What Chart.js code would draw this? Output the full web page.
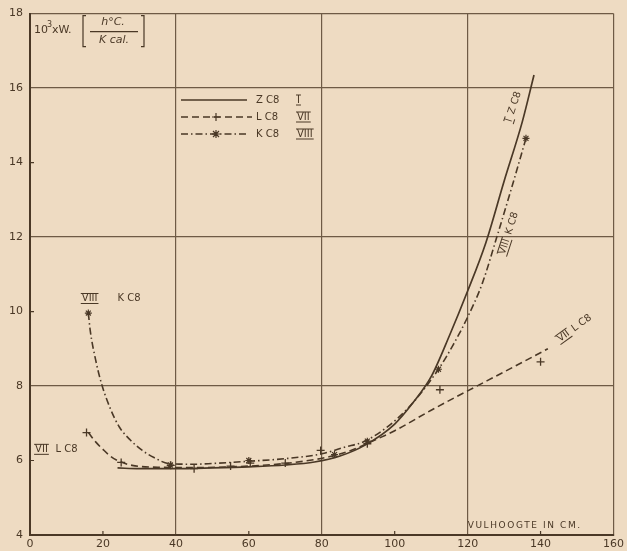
<!DOCTYPE html>
<html>
<head>
<meta charset="utf-8">
<script src="https://cdn.jsdelivr.net/npm/chart.js@4/dist/chart.umd.min.js"></script>
<style>
html,body{margin:0;padding:0;background:#eedbc2;}
#wrap{width:627px;height:551px;}
</style>
</head>
<body>
<div id="wrap"><canvas id="grafica"></canvas></div>
<script>
// vulhoogte (cm) tegen 10^3 x W
var zcX = [24, 30, 40, 50, 60, 70, 78, 85, 92, 100, 105, 110, 115, 120, 125, 130, 135, 138.2];
var zcY = [5.8, 5.78, 5.78, 5.8, 5.83, 5.88, 5.96, 6.12, 6.42, 6.98, 7.55, 8.25, 9.35, 10.55, 11.85, 13.5, 15.1, 16.35];

var lcX = [16, 18, 20, 22, 24, 28, 35, 45, 55, 65, 75, 82, 88, 92.5, 100, 110, 120, 130, 142];
var lcY = [6.75, 6.5, 6.3, 6.12, 6.0, 5.87, 5.82, 5.81, 5.83, 5.88, 5.98, 6.1, 6.27, 6.46, 6.8, 7.35, 7.87, 8.38, 9.0];

var kcX = [16, 16.5, 18, 19.5, 22, 24.5, 27.5, 30.8, 34, 38, 45, 50, 60, 70, 80, 86, 92.5, 103, 112, 116, 120, 124, 128, 132, 136];
var kcY = [9.96, 9.5, 8.7, 8.1, 7.4, 6.9, 6.55, 6.27, 6.08, 5.92, 5.9, 5.92, 5.98, 6.05, 6.18, 6.35, 6.55, 7.34, 8.45, 9.1, 9.85, 10.75, 12.0, 13.3, 14.65];

// meetpunten
var lmX = [15.5, 25, 38.6, 45, 55, 60.4, 70, 79.7, 92.5, 112.4, 140];
var lmY = [6.75, 5.95, 5.87, 5.78, 5.85, 5.93, 5.93, 6.27, 6.45, 7.9, 8.65];
var kmX = [16, 38.5, 60, 83.5, 92.5, 112, 136];
var kmY = [9.96, 5.88, 6.0, 6.16, 6.52, 8.45, 14.65];

var xTicks = [0, 20, 40, 60, 80, 100, 120, 140, 160];
var yTicks = [4, 6, 8, 10, 12, 14, 16, 18];
var gridX = [40, 80, 120, 160];
var gridY = [8, 12, 16, 18];

var inkt = '#4a3826';
var rooster = '#6e5a45';
var papier = '#eedbc2';
var letter = '"DejaVu Sans", sans-serif';

function punten(xs, ys){
    var res = [];
    for (var i = 0; i < xs.length; i++){
        res.push({x: xs[i], y: ys[i]});
    }
    return res;
}

// romeins cijfer met streep erboven en eronder
function romein(c, s, x, y){
    c.textAlign = 'left';
    c.textBaseline = 'middle';
    c.fillText(s, x, y);
    var w = c.measureText(s).width;
    c.lineWidth = 1;
    c.setLineDash([]);
    c.beginPath();
    c.moveTo(x - 1, y - 5); c.lineTo(x + w + 1, y - 5);
    c.moveTo(x - 1, y + 5); c.lineTo(x + w + 1, y + 5);
    c.stroke();
    return w;
}

function draaiTekst(c, delen, x, y, hoek){
    c.save();
    c.translate(x, y);
    c.rotate(hoek * Math.PI / 180);
    var totaal = 0;
    for (var i = 0; i < delen.length; i++){
        totaal += c.measureText(delen[i].t).width + (i > 0 ? 5 : 0);
    }
    var px = -totaal / 2;
    for (var i = 0; i < delen.length; i++){
        if (delen[i].r){
            px += romein(c, delen[i].t, px, 0) + 5;
        } else {
            c.textAlign = 'left';
            c.textBaseline = 'middle';
            c.fillText(delen[i].t, px, 0);
            px += c.measureText(delen[i].t).width + 5;
        }
    }
    c.restore();
}

var achtergrond = {
    id: 'achtergrond',
    beforeDraw: function(chart){
        var c = chart.ctx;
        c.save();
        c.fillStyle = papier;
        c.fillRect(0, 0, chart.width, chart.height);
        c.restore();
    }
};

var opschriften = {
    id: 'opschriften',
    afterDraw: function(chart){
        var c = chart.ctx;
        var a = chart.chartArea;
        var sx = chart.scales.x, sy = chart.scales.y;
        c.save();
        c.fillStyle = inkt;
        c.strokeStyle = inkt;

        // kleine streepjes op de assen
        c.lineWidth = 1.2;
        c.beginPath();
        [20, 60, 100, 140].forEach(function(v){
            var p = sx.getPixelForValue(v);
            c.moveTo(p, a.bottom); c.lineTo(p, a.bottom - 4);
        });
        [6, 10, 14].forEach(function(v){
            var p = sy.getPixelForValue(v);
            c.moveTo(a.left, p); c.lineTo(a.left + 4, p);
        });
        c.stroke();

        // grootheid op de y-as
        c.font = '11px ' + letter;
        c.textBaseline = 'middle';
        c.textAlign = 'left';
        c.fillText('10', a.left + 4, a.top + 17);
        c.font = '8px ' + letter;
        c.fillText('3', a.left + 17, a.top + 11);
        c.font = '11px ' + letter;
        c.fillText('xW.', a.left + 22, a.top + 17);
        c.lineWidth = 1.2;
        c.beginPath();
        c.moveTo(a.left + 56, a.top + 2); c.lineTo(a.left + 53, a.top + 2);
        c.lineTo(a.left + 53, a.top + 33); c.lineTo(a.left + 56, a.top + 33);
        c.moveTo(a.left + 111, a.top + 2); c.lineTo(a.left + 114, a.top + 2);
        c.lineTo(a.left + 114, a.top + 33); c.lineTo(a.left + 111, a.top + 33);
        c.moveTo(a.left + 60, a.top + 18); c.lineTo(a.left + 108, a.top + 18);
        c.stroke();
        c.textAlign = 'center';
        c.font = 'italic 11px ' + letter;
        c.fillText('h\u00b0C.', a.left + 83, a.top + 9);
        c.fillText('K cal.', a.left + 84, a.top + 27);

        // legenda
        var rijen = [
            {y: 100, dash: [], mark: null, t: 'Z C8', r: 'I', tot: 247},
            {y: 117, dash: [7, 4], mark: 'plus', t: 'L C8', r: 'VII', tot: 252},
            {y: 134, dash: [7, 3, 1.5, 3], mark: 'ster', t: 'K C8', r: 'VIII', tot: 248}
        ];
        rijen.forEach(function(rij){
            c.lineWidth = 1.4;
            c.setLineDash(rij.dash);
            c.beginPath();
            c.moveTo(181, rij.y); c.lineTo(rij.tot, rij.y);
            c.stroke();
            c.setLineDash([]);
            c.lineWidth = 1.2;
            if (rij.mark){
                c.beginPath();
                c.moveTo(216, rij.y - 4); c.lineTo(216, rij.y + 4);
                c.moveTo(212, rij.y); c.lineTo(220, rij.y);
                if (rij.mark == 'ster'){
                    c.moveTo(213, rij.y - 3); c.lineTo(219, rij.y + 3);
                    c.moveTo(219, rij.y - 3); c.lineTo(213, rij.y + 3);
                }
                c.stroke();
            }
            c.font = '10px ' + letter;
            c.textAlign = 'left';
            c.textBaseline = 'middle';
            c.fillText(rij.t, 256, rij.y);
            romein(c, rij.r, 297, rij.y);
        });

        // opschriften bij de krommen
        c.font = '10px ' + letter;
        romein(c, 'VIII', sx.getPixelForValue(14.2), sy.getPixelForValue(10.35));
        c.textAlign = 'left';
        c.fillText('K C8', sx.getPixelForValue(24), sy.getPixelForValue(10.35));
        romein(c, 'VII', sx.getPixelForValue(1.4), sy.getPixelForValue(6.3));
        c.textAlign = 'left';
        c.fillText('L C8', sx.getPixelForValue(7), sy.getPixelForValue(6.3));

        draaiTekst(c, [{t: 'I', r: true}, {t: 'Z C8'}],
            sx.getPixelForValue(132.6), sy.getPixelForValue(15.5), -72);
        draaiTekst(c, [{t: 'VIII', r: true}, {t: 'K C8'}],
            sx.getPixelForValue(131.3), sy.getPixelForValue(12.1), -72);
        draaiTekst(c, [{t: 'VII', r: true}, {t: 'L C8'}],
            sx.getPixelForValue(149.3), sy.getPixelForValue(9.55), -36);

        // grootheid op de x-as
        c.font = '9px ' + letter;
        c.letterSpacing = '1.6px';
        c.textAlign = 'left';
        c.fillText('VULHOOGTE IN CM.', sx.getPixelForValue(120), a.bottom - 9);
        c.restore();
    }
};

var ctx = document.getElementById('grafica').getContext('2d');
var myChart = new Chart(ctx, {
    type: 'scatter',
    data: {
        datasets: [{
            label: 'Z C8 I',
            data: punten(zcX, zcY),
            showLine: true,
            borderColor: inkt,
            borderWidth: 1.7,
            pointRadius: 0,
            cubicInterpolationMode: 'monotone'
        }, {
            label: 'L C8 VII',
            data: punten(lcX, lcY),
            showLine: true,
            borderColor: inkt,
            borderWidth: 1.6,
            borderDash: [7, 4],
            pointRadius: 0,
            cubicInterpolationMode: 'monotone'
        }, {
            label: 'K C8 VIII',
            data: punten(kcX, kcY),
            showLine: true,
            borderColor: inkt,
            borderWidth: 1.6,
            borderDash: [7, 3, 1.5, 3],
            pointRadius: 0,
            cubicInterpolationMode: 'monotone'
        }, {
            label: 'L C8 meetpunten',
            data: punten(lmX, lmY),
            showLine: false,
            pointStyle: 'cross',
            pointRadius: 4,
            borderColor: inkt,
            borderWidth: 1.3
        }, {
            label: 'K C8 meetpunten',
            data: punten(kmX, kmY),
            showLine: false,
            pointStyle: 'star',
            pointRadius: 3.5,
            borderColor: inkt,
            borderWidth: 1.2
        }]
    },
    options: {
        responsive: true,
        maintainAspectRatio: false,
        animation: false,
        events: [],
        layout: {padding: {top: 12, right: 10, left: 0, bottom: 0}},
        plugins: {
            legend: {display: false},
            tooltip: {enabled: false},
            title: {display: false}
        },
        scales: {
            x: {
                type: 'linear',
                min: 0,
                max: 160,
                afterBuildTicks: function(s){
                    s.ticks = xTicks.map(function(v){ return {value: v}; });
                },
                afterFit: function(s){ s.height = 16; },
                grid: {
                    color: function(c){
                        return (c.tick && gridX.indexOf(c.tick.value) >= 0) ? rooster : 'rgba(0,0,0,0)';
                    },
                    lineWidth: 1.2,
                    drawTicks: false
                },
                border: {display: true, color: inkt, width: 2},
                ticks: {
                    padding: 3,
                    color: inkt,
                    autoSkip: false,
                    maxRotation: 0,
                    font: {family: letter, size: 11}
                }
            },
            y: {
                type: 'linear',
                min: 4,
                max: 18,
                afterBuildTicks: function(s){
                    s.ticks = yTicks.map(function(v){ return {value: v}; });
                },
                afterFit: function(s){ s.width = 30; },
                grid: {
                    color: function(c){
                        return (c.tick && gridY.indexOf(c.tick.value) >= 0) ? rooster : 'rgba(0,0,0,0)';
                    },
                    lineWidth: 1.2,
                    drawTicks: false
                },
                border: {display: true, color: inkt, width: 2},
                ticks: {
                    padding: 7,
                    color: inkt,
                    autoSkip: false,
                    font: {family: letter, size: 11}
                }
            }
        }
    },
    plugins: [achtergrond, opschriften]
});
</script>
</body>
</html>
